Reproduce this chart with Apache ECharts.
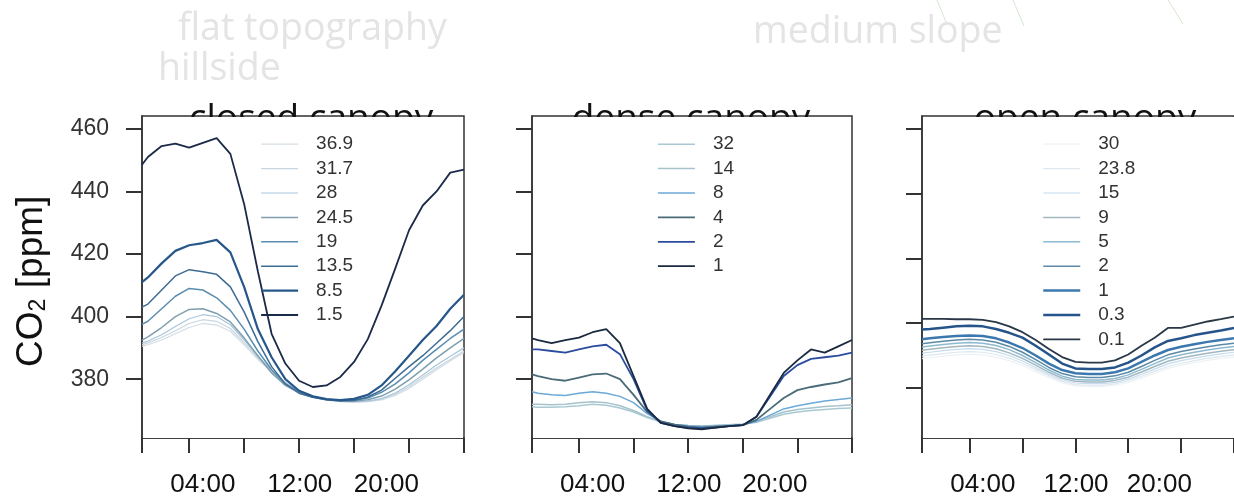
<!DOCTYPE html>
<html><head><meta charset="utf-8">
<script src="https://cdn.jsdelivr.net/npm/echarts@6/dist/echarts.min.js"></script>
<style>html,body{margin:0;padding:0;background:#fff}#c{width:1234px;height:498px}</style>
</head><body><div id="c"></div>
<script>
// ---- time axes (hours of day) ----
const hoursClosed = [0.57,1,2,3,4,5,6,7,8,9,10,11,12,13,14,15,16,17,18,19,20,21,22,23,24];
const hoursDense  = [0.56,1,2,3,4,5,6,7,8,9,10,11,12,13,14,15,16,17,18,19,20,21,22,23,24];
const hoursOpen   = [0.40,1,2,3,4,5,6,7,8,9,10,11,12,13,14,15,16,17,18,19,20,21,22,23,24];
const xTickHours = [4,8,12,16,20,24];
const xLabelPos  = [5.0,12.05,18.35];
const xLabelText = ['04:00','12:00','20:00'];
const yTickValues = [380,400,420,440,460];

// ---- closed canopy (flat topography) : heights in legend ----
const closedNames = ['36.9','31.7','28','24.5','19','13.5','8.5','1.5'];
const closed_36_9 = [390.5,391,392.5,394.5,396.5,397.8,397.3,395.3,391,386.3,382.3,378.5,376,374.3,373.3,372.8,372.6,372.8,373.4,374.8,377,380,383,385.8,388.5];
const closed_31_7 = [391,391.6,393.3,395.5,397.8,399,398.5,396.2,391.8,386.8,382.6,378.7,376.1,374.4,373.4,372.9,372.7,372.9,373.6,375.2,377.6,380.6,383.6,386.3,389];
const closed_28   = [391.5,392.2,394.2,396.8,399.3,400.6,400,397.4,392.6,387.3,382.9,378.9,376.2,374.5,373.5,373,372.8,373,373.8,375.6,378.2,381.3,384.5,387.3,390];
const closed_24_5 = [392.5,393.5,396.5,400,402.3,402.5,401,398.3,393.2,387.5,382,378,375.6,374.2,373.4,373,373,373.4,374.6,376.8,379.8,383.2,386.8,390,393];
const closed_19   = [397.5,398.5,402.5,406.5,409,408.5,406,402,396,389,383,378.5,376,374.5,373.6,373.2,373.3,374,375.8,378.5,382,386,389.5,393,396];
const closed_13_5 = [403,404,408.5,413,415,414.3,413.5,409.5,401.5,392,384,378.5,375.5,374.2,373.4,373.1,373.2,374.3,376.5,380.3,384,387.5,391.5,395.5,400];
const closed_8_5  = [411,412.5,417,421,422.8,423.5,424.5,420.5,409.5,396,387,380,376.3,374.5,373.6,373.3,373.7,375,378,382.5,387.5,392.5,397,402.5,407];
const closed_1_5  = [448.5,451,454.5,455.3,454,455.5,457,452,436,414.5,394.5,385,379.5,377.5,378,380.7,385.5,392.8,403.5,415.4,427.6,435.5,440,446,447];

// ---- dense canopy (hillside) ----
const denseNames = ['32','14','8','4','2','1'];
const dense_32 = [371.2,371,371,371.2,371.5,372,371.7,370.8,369.5,367.7,366.3,365.5,365.2,365,365.2,365.4,365.6,366.2,367.5,368.8,369.5,370,370.3,370.6,370.8];
const dense_14 = [372,372,371.8,372,372.5,372.8,372.5,371.5,370,368,366.5,365.5,365.2,365,365.2,365.4,365.6,366.5,368,369.5,370.3,370.8,371.3,371.5,371.8];
const dense_8  = [376,375.5,375,374.8,375.5,376,375.5,374.5,372.5,369,366.5,365.5,365,364.8,365,365.2,365.5,366.5,368.5,370.5,371.5,372.3,373,373.5,374];
const dense_4  = [381.5,381,380,379.5,380.5,381.5,381.8,380,375,369.5,366.5,365.5,364.8,364.5,364.8,365,365.3,367,370.5,374,376.5,377.5,378.3,379,380.3];
const dense_2  = [389.5,389.5,389,388.5,389.5,390.5,391,388,380,370,366,365,364.5,364.3,364.5,365,365.3,368,374.5,381,384.5,386.5,387,387.5,388.5];
const dense_1  = [393,392.5,391.5,392.5,393.3,395,396,391.5,381,370.5,366,365,364.3,364,364.5,365,365.3,368,375,382,386,389.5,388.5,390.5,392.5];

// ---- open canopy (medium slope) ----
const openNames = ['30','23.8','15','9','5','2','1','0.3','0.1'];
const open_30   = [389,389.3,389.8,390.2,390.4,390.2,389.5,388.4,386.9,385,383.1,381.5,380.6,380.4,380.4,380.8,381.7,383,384.5,386,387,387.8,388.5,389.1,389.6];
const open_23_8 = [389.8,390.1,390.6,391,391.2,391,390.3,389.2,387.6,385.7,383.7,382,381,380.8,380.8,381.2,382.2,383.6,385.1,386.6,387.6,388.4,389.1,389.7,390.2];
const open_15   = [390.7,391,391.5,391.9,392.1,391.9,391.2,390,388.3,386.3,384.2,382.5,381.5,381.3,381.3,381.7,382.7,384.2,385.8,387.4,388.4,389.2,389.9,390.5,391];
const open_9    = [391.6,391.9,392.4,392.8,393,392.8,392.1,390.8,389.1,387,384.8,383,382,381.8,381.8,382.3,383.3,384.9,386.6,388.2,389.2,390,390.7,391.3,391.8];
const open_5    = [392.6,392.9,393.4,393.8,394,393.8,393.1,391.8,390,387.8,385.5,383.6,382.6,382.4,382.4,382.9,384,385.7,387.5,389.2,390.2,391,391.7,392.3,392.8];
const open_2    = [393.6,393.9,394.4,394.8,395,394.8,394.1,392.8,391,388.7,386.3,384.4,383.4,383.2,383.2,383.7,384.8,386.6,388.5,390.2,391.2,392,392.7,393.3,393.8];
const open_1    = [395,395.3,395.7,396,396.2,396,395.3,394,392.3,390,387.5,385.5,384.5,384.3,384.3,384.8,386,388,390,391.7,392.7,393.5,394.2,394.8,395.3];
const open_0_3  = [398,398.2,398.6,399,399.2,399,398.2,397,395.5,393,390.3,387.5,386,385.8,385.8,386.3,387.8,390,392.5,394.5,395.3,396.3,397,397.7,398.5];
const open_0_1  = [401.3,401.3,401.3,401.2,401.2,401,400.3,399,397.2,394.8,392,389.5,388,387.8,387.8,388.5,390.3,393,395.5,398.5,398.5,399.5,400.5,401.2,402];

// ---- styles (kept apart from data) ----
const closedStyle = {colors:['#d3dde4','#c7d6e0','#a8c6dc','#7f9fae','#5b8db0','#3d6c94','#27578a','#1b2a48'], widths:[1.2,1.2,1.2,1.5,1.5,1.5,2.2,1.8]};
const denseStyle  = {colors:['#a9c9d2','#a6c3cb','#6aa9d8','#4b6b78','#2b4c9e','#1a2a40'], widths:[1.5,1.5,1.5,1.8,1.8,1.8]};
const openStyle   = {colors:['#edf2f5','#dfe8ef','#c4dcee','#a3b7bf','#8cbad2','#5c8aa6','#3b78ae','#24548a','#2a3746'], widths:[1.2,1.2,1.2,1.5,1.5,1.5,2.5,2.5,1.8]};

const panels = [
  {key:'c', hours:hoursClosed, names:closedNames, vals:[closed_36_9,closed_31_7,closed_28,closed_24_5,closed_19,closed_13_5,closed_8_5,closed_1_5], style:closedStyle,
   grid:{left:142, top:116, width:322, height:323}, xmin:0.57, ymin:361.2, ymax:464.1, showY:true, legendLeft:260, title:'closed canopy', titleX:311},
  {key:'d', hours:hoursDense, names:denseNames, vals:[dense_32,dense_14,dense_8,dense_4,dense_2,dense_1], style:denseStyle,
   grid:{left:532, top:116, width:320, height:323}, xmin:0.56, ymin:361.2, ymax:464.1, showY:false, legendLeft:657, title:'dense canopy', titleX:691},
  {key:'o', hours:hoursOpen, names:openNames, vals:[open_30,open_23_8,open_15,open_9,open_5,open_2,open_1,open_0_3,open_0_1], style:openStyle,
   grid:{left:922, top:116, width:323, height:323}, xmin:0.40, ymin:364.5, ymax:464, showY:false, legendLeft:1042, title:'open canopy', titleX:1085}
];

const LBL = 'Liberation Sans, Arial, sans-serif';
const grids = [], xAxes = [], yAxes = [], series = [], legends = [], graphics = [];
panels.forEach((p, i) => {
  grids.push(Object.assign({show:true, borderColor:'#333', borderWidth:1.5, backgroundColor:'transparent'}, p.grid));
  xAxes.push({type:'value', gridIndex:i, min:p.xmin, max:24,
    axisLine:{show:true, lineStyle:{color:'#333', width:1.5}},
    axisTick:{show:true, inside:false, length:15, lineStyle:{color:'#333', width:2}, customValues:[p.xmin].concat(xTickHours)},
    axisLabel:{show:true, customValues:xLabelPos, margin:34, fontSize:26, color:'#111', fontFamily:LBL,
      formatter:v => xLabelText[xLabelPos.findIndex(q => Math.abs(q - v) < 0.01)] || ''},
    splitLine:{show:false}});
  yAxes.push({type:'value', gridIndex:i, min:p.ymin, max:p.ymax,
    axisLine:{show:true, lineStyle:{color:'#333', width:1.5}},
    axisTick:{show:true, inside:false, length:16, lineStyle:{color:'#333', width:2}, customValues:yTickValues},
    axisLabel:{show:p.showY, customValues:yTickValues, margin:33, fontSize:23, color:'#333', fontFamily:LBL},
    splitLine:{show:false}});
  const legendData = [];
  p.names.forEach((n, k) => {
    const name = p.key + ':' + n;
    legendData.push(name);
    series.push({type:'line', name:name, xAxisIndex:i, yAxisIndex:i, symbol:'none', smooth:false,
      lineStyle:{color:p.style.colors[k], width:p.style.widths[k]}, itemStyle:{color:p.style.colors[k]},
      data:p.hours.map((h, j) => [h, p.vals[k][j]]), z:2 + k * 0.01});
  });
  legends.push({orient:'vertical', left:p.legendLeft, top:134.7, padding:0, itemWidth:37, itemHeight:14, itemGap:5.4,
    selectedMode:false, data:legendData, formatter:n => n.split(':')[1],
    itemStyle:{opacity:0}, lineStyle:{width:'inherit'},
    textStyle:{fontSize:19, color:'#333', fontFamily:LBL, padding:[0,0,0,13]}});
  // white plot background that hides the lower half of the panel title
  graphics.push({type:'rect', z:1, shape:{x:p.grid.left+1, y:p.grid.top+1, width:p.grid.width-2, height:p.grid.height-2}, style:{fill:'#fff'}});
  graphics.push({type:'text', z:0, x:p.titleX, y:119, style:{text:p.title, font:'37px "Open Sans"', fill:'#111', align:'center', textAlign:'center', verticalAlign:'middle', textVerticalAlign:'middle'}});
});

const faint = '#e4e4e4';
const OS = '37.5px "Open Sans"';
const T = (t, x, y) => ({type:'text', z:0, x:x, y:y, style:{text:t, font:OS, fill:faint, align:'left', textAlign:'left', verticalAlign:'middle', textVerticalAlign:'middle'}});
graphics.push(T('flat topography', 178, 29));
graphics.push(T('hillside', 158, 69));
graphics.push(T('medium slope', 753, 32));
graphics.push({type:'line', z:0, shape:{x1:937, y1:0, x2:946, y2:22}, style:{stroke:'#d5e6d2', lineWidth:1}});
graphics.push({type:'line', z:0, shape:{x1:1013, y1:0, x2:1024, y2:26}, style:{stroke:'#d5e6d2', lineWidth:1}});
graphics.push({type:'line', z:0, shape:{x1:1168, y1:0, x2:1183, y2:24}, style:{stroke:'#d5e6d2', lineWidth:1}});
// y axis title CO2 [ppm]
const TS = (t, size, x, y) => ({type:'text', x:x, y:y, style:{text:t, font:size + 'px "Liberation Sans"', fill:'#111', align:'left', textAlign:'left', verticalAlign:'middle', textVerticalAlign:'middle'}});
graphics.push({type:'group', x:43, y:367, rotation:Math.PI/2, children:[
  TS('CO', 37, 0, -11.5), TS('2', 23, 55.5, -4.5), TS(' [ppm]', 37, 68.5, -11.5)
]});

const chart = echarts.init(document.getElementById('c'), null, {renderer:'canvas'});
chart.setOption({animation:false, backgroundColor:'#fff', grid:grids, xAxis:xAxes, yAxis:yAxes, series:series, legend:legends, graphic:graphics});
</script></body></html>
